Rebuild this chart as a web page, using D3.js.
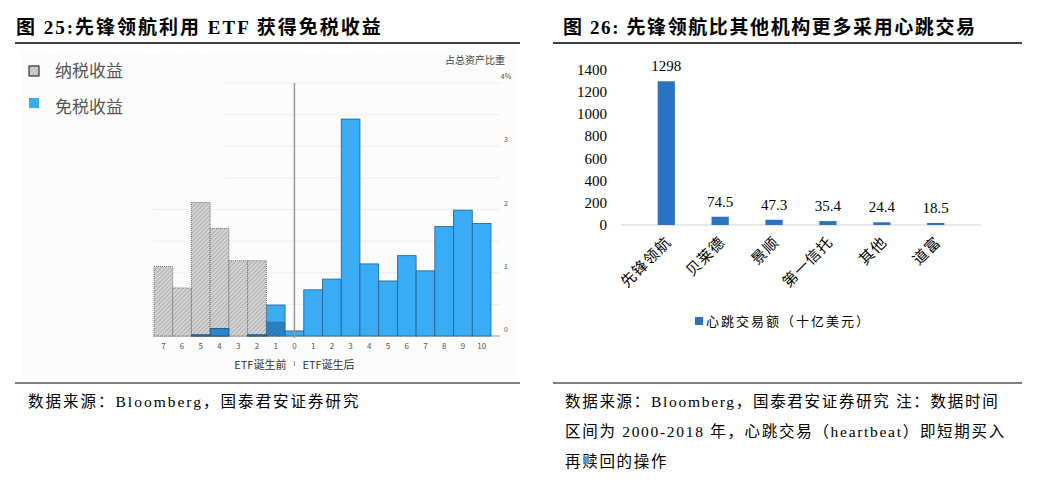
<!DOCTYPE html>
<html><head><meta charset="utf-8">
<script src="https://cdn.jsdelivr.net/npm/d3@7"></script>
<style>body{margin:0;background:#fff}</style></head>
<body><svg id="c" width="1037" height="493"></svg>
<script>
// left chart data: years before/after ETF launch
const periods = ["7","6","5","4","3","2","1","0","1","2","3","4","5","6","7","8","9","10"];
const taxable = [1.1,0.76,2.11,1.7,1.19,1.19,0.22,0,0,0,0,0,0,0,0,0,0,0];
const exempt  = [0,0,0.02,0.12,0,0.02,0.49,0.08,0.73,0.9,3.43,1.14,0.87,1.27,1.03,1.73,1.99,1.78];
const leftTicks = [0,1,2,3,4];

// right chart data
const firms = ["先锋领航","贝莱德","景顺","第一信托","其他","道富"];
const heartbeat = [1298,74.5,47.3,35.4,24.4,18.5];
const rightTicks = [0,200,400,600,800,1000,1200,1400];

const svg = d3.select("#c");
const serif = "'Liberation Serif','Noto Sans CJK SC',serif";
const sans = "'Noto Sans CJK SC','Noto Sans',sans-serif";

// hatch pattern
const defs = svg.append("defs");
const pat = defs.append("pattern").attr("id","hatch").attr("patternUnits","userSpaceOnUse")
    .attr("width",3).attr("height",3).attr("patternTransform","rotate(45)");
pat.append("rect").attr("width",3).attr("height",3).attr("fill","#d4d4d4");
pat.append("line").attr("x1",0).attr("y1",0).attr("x2",0).attr("y2",3).attr("stroke","#8a8a8a").attr("stroke-width",1);
const pat2 = defs.append("pattern").attr("id","hatchb").attr("patternUnits","userSpaceOnUse")
    .attr("width",3).attr("height",3).attr("patternTransform","rotate(45)");
pat2.append("rect").attr("width",3).attr("height",3).attr("fill","#2b86c9");
pat2.append("line").attr("x1",0).attr("y1",0).attr("x2",0).attr("y2",3).attr("stroke","#1d5f93").attr("stroke-width",1);

// titles and rules
svg.append("text").attr("x",16).attr("y",34).attr("font-family",serif).attr("font-weight","bold")
    .attr("font-size",19).attr("letter-spacing",2).text("图 25:先锋领航利用 ETF 获得免税收益");
svg.append("text").attr("x",563).attr("y",34).attr("font-family",serif).attr("font-weight","bold")
    .attr("font-size",19).attr("letter-spacing",1.6).text("图 26: 先锋领航比其他机构更多采用心跳交易");
[[15,520],[553,1022]].forEach(([a,b]) => {
  svg.append("line").attr("x1",a).attr("x2",b).attr("y1",43).attr("y2",43).attr("stroke","#000").attr("stroke-width",1.3);
  svg.append("line").attr("x1",a).attr("x2",b).attr("y1",383).attr("y2",383).attr("stroke","#000").attr("stroke-width",1);
});
svg.append("text").attr("x",28).attr("y",407).attr("font-family",serif).attr("font-size",15.5).attr("letter-spacing",2)
    .text("数据来源：Bloomberg，国泰君安证券研究");
["数据来源：Bloomberg，国泰君安证券研究  注：数据时间","区间为 2000-2018 年，心跳交易（heartbeat）即短期买入","再赎回的操作"]
  .forEach((t,i) => svg.append("text").attr("x",565).attr("y",407+i*30).attr("font-family",serif)
    .attr("font-size",15.5).attr("letter-spacing",1.7).text(t));

// ---- left chart ----
svg.append("rect").attr("x",22).attr("y",50).attr("width",495).attr("height",325).attr("fill","#fcfcfc");
const x1 = d3.scaleBand().domain(d3.range(periods.length)).range([154,491]).padding(0);
const y1 = d3.scaleLinear().domain([0,4]).range([336,83]);
d3.range(0,4.01,0.5).forEach(v => {
  svg.append("line").attr("x1", v>=2.5 ? 225 : 153).attr("x2",500).attr("y1",y1(v)).attr("y2",y1(v))
    .attr("stroke", v==0 ? "#999" : "#eeeeee");
});
const L = svg.append("g");
L.selectAll(".ex").data(exempt).join("rect")
  .attr("x",(d,i)=>x1(i)).attr("width",x1.bandwidth()).attr("y",d=>y1(d)).attr("height",d=>y1(0)-y1(d))
  .attr("fill","#3aacf6").attr("stroke","#1f5f8f").attr("stroke-width",0.8);
L.selectAll(".tx").data(taxable).join("rect")
  .attr("x",(d,i)=>x1(i)).attr("width",x1.bandwidth()).attr("y",d=>y1(d)).attr("height",d=>y1(0)-y1(d))
  .attr("fill",(d,i)=> exempt[i]>d ? "url(#hatchb)" : "url(#hatch)").attr("stroke","#555").attr("stroke-width",0.8)
  .attr("stroke-dasharray","1,1");
// overlap where exempt is smaller than taxable
L.selectAll(".ov").data(exempt).join("rect")
  .attr("x",(d,i)=>x1(i)).attr("width",x1.bandwidth())
  .attr("y",(d,i)=> taxable[i]>d ? y1(d) : y1(0)).attr("height",(d,i)=> taxable[i]>d ? y1(0)-y1(d) : 0)
  .attr("fill","#2b86c9").attr("stroke","#1d4f7a").attr("stroke-width",0.8);
svg.append("g").attr("transform","translate(0,346)").selectAll("text").data(periods).join("text")
  .attr("x",(d,i)=>x1(i)+x1.bandwidth()/2).attr("y",3).attr("text-anchor","middle")
  .attr("font-family",sans).attr("font-size",8).attr("fill","#555").text(d=>d);
svg.append("g").selectAll("text").data(leftTicks).join("text")
  .attr("x",506).attr("y",d=>y1(d)-4).attr("text-anchor","middle")
  .attr("font-family",sans).attr("font-size",7).attr("fill","#555").text(d=> d==4 ? "4%" : d);
svg.append("text").attr("x",505).attr("y",64).attr("text-anchor","end").attr("font-family",sans)
  .attr("font-size",10).attr("fill","#444").text("占总资产比重");
const xm = x1(7)+x1.bandwidth()/2;
svg.append("line").attr("x1",xm).attr("x2",xm).attr("y1",83).attr("y2",338).attr("stroke","#999").attr("stroke-width",1.5);
svg.append("line").attr("x1",xm).attr("x2",xm).attr("y1",361).attr("y2",366).attr("stroke","#999");
svg.append("text").attr("x",xm-8).attr("y",369).attr("text-anchor","end").attr("font-family",sans).attr("font-size",11).attr("fill","#333").text("ETF诞生前");
svg.append("text").attr("x",xm+8).attr("y",369).attr("font-family",sans).attr("font-size",11).attr("fill","#333").text("ETF诞生后");
// legend
svg.append("rect").attr("x",29).attr("y",66).attr("width",10).attr("height",10).attr("fill","url(#hatch)").attr("stroke","#333").attr("stroke-width",1.2);
svg.append("rect").attr("x",29).attr("y",98).attr("width",10).attr("height",10).attr("fill","#3aacf6");
svg.append("text").attr("x",55).attr("y",77).attr("font-family",sans).attr("font-size",17).attr("fill","#555").text("纳税收益");
svg.append("text").attr("x",55).attr("y",113).attr("font-family",sans).attr("font-size",17).attr("fill","#555").text("免税收益");

// ---- right chart ----
const x2 = d3.scaleBand().domain(firms).range([621,981]).padding(0.68);
const y2 = d3.scaleLinear().domain([0,1400]).range([225,70]);
svg.append("g").selectAll("text").data(rightTicks).join("text")
  .attr("x",607).attr("y",d=>y2(d)+5).attr("text-anchor","end").attr("font-family",serif)
  .attr("font-size",15).text(d=>d);
svg.append("line").attr("x1",621).attr("x2",981).attr("y1",y2(0)).attr("y2",y2(0)).attr("stroke","#d0d0d0").attr("stroke-width",1);
svg.append("g").selectAll("rect").data(heartbeat).join("rect")
  .attr("x",(d,i)=>x2(firms[i])).attr("width",x2.bandwidth()).attr("y",d=>y2(d)).attr("height",d=>y2(0)-y2(d))
  .attr("fill","#2a72c4");
svg.append("g").selectAll("text").data(heartbeat).join("text")
  .attr("x",(d,i)=>x2(firms[i])+x2.bandwidth()/2).attr("y",d=>y2(d)-10).attr("text-anchor","middle")
  .attr("font-family",serif).attr("font-size",15).text(d=>d);
svg.append("g").selectAll("text").data(firms).join("text")
  .attr("transform",d=>`translate(${x2(d)+x2.bandwidth()/2+6},${y2(0)+18}) rotate(-45)`)
  .attr("text-anchor","end").attr("font-family",sans).attr("font-size",15).attr("letter-spacing",1).text(d=>d);
svg.append("rect").attr("x",695).attr("y",317).attr("width",8).attr("height",8).attr("fill","#2a72c4");
svg.append("text").attr("x",706).attr("y",326).attr("font-family",sans).attr("font-size",13).attr("letter-spacing",2).text("心跳交易额（十亿美元）");
</script></body></html>
